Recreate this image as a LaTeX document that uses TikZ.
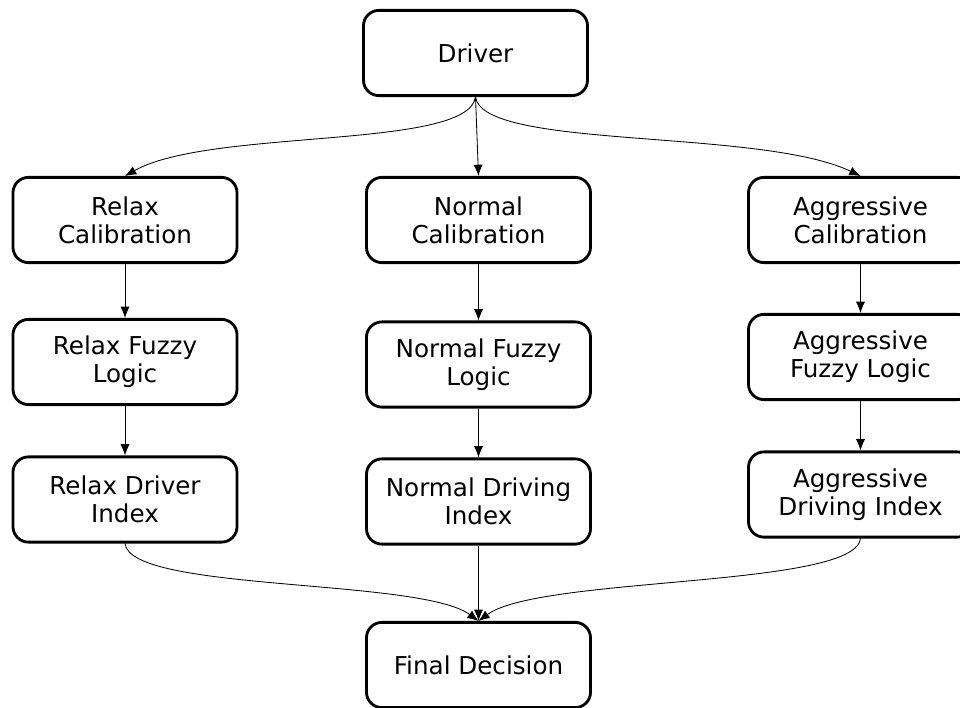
\documentclass[tikz,border=0pt]{standalone}
\usepackage{fontspec}
\setmainfont{DejaVu Sans}
\usetikzlibrary{arrows.meta}
\tikzset{
    block/.style={draw, line width=2pt, rounded corners=11pt, minimum width=5.6cm, minimum height=2.13cm, align=center, font=\fontsize{17.5}{20}\selectfont},
    link/.style={black, line width=0.6pt, -{Latex[length=8pt, width=6.5pt]}}
}
\begin{document}
\begin{tikzpicture}[x=0.025cm, y=-0.025cm]
        \useasboundingbox (0,0) rectangle (960,708);
        \node[block] (driver) at (475.5,53) {Driver};
        \node[block] (relaxcal) at (125,220) {Relax\\Calibration};
        \node[block] (normalcal) at (478.5,220) {Normal\\Calibration};
        \node[block] (aggrcal) at (860.5,220) {Aggressive\\Calibration};
        \node[block] (relaxfuzzy) at (125,362) {Relax Fuzzy\\Logic};
        \node[block] (normalfuzzy) at (478.5,364.5) {Normal Fuzzy\\Logic};
        \node[block] (aggrfuzzy) at (860.5,357) {Aggressive\\Fuzzy Logic};
        \node[block] (relaxindex) at (125,499.5) {Relax Driver\\Index};
        \node[block] (normalindex) at (478.5,501.5) {Normal Driving\\Index};
        \node[block] (aggrindex) at (860.5,494.5) {Aggressive\\Driving Index};
        \node[block] (final) at (478.5,665) {Final Decision};
        \draw[link] (driver.south) .. controls (468,150) and (210,128) .. (relaxcal.north);
        \draw[link] (driver.south) -- (normalcal.north);
        \draw[link] (driver.south) .. controls (483,150) and (760,128) .. (aggrcal.north);
        \draw[link] (relaxcal) -- (relaxfuzzy);
        \draw[link] (normalcal) -- (normalfuzzy);
        \draw[link] (aggrcal) -- (aggrfuzzy);
        \draw[link] (relaxfuzzy) -- (relaxindex);
        \draw[link] (normalfuzzy) -- (normalindex);
        \draw[link] (aggrfuzzy) -- (aggrindex);
        \draw[link] (relaxindex.south) .. controls (130,592) and (420,578) .. (final.north);
        \draw[link] (normalindex.south) -- (final.north);
        \draw[link] (aggrindex.south) .. controls (855,588) and (540,576) .. (final.north);
    \end{tikzpicture}
\end{document}
